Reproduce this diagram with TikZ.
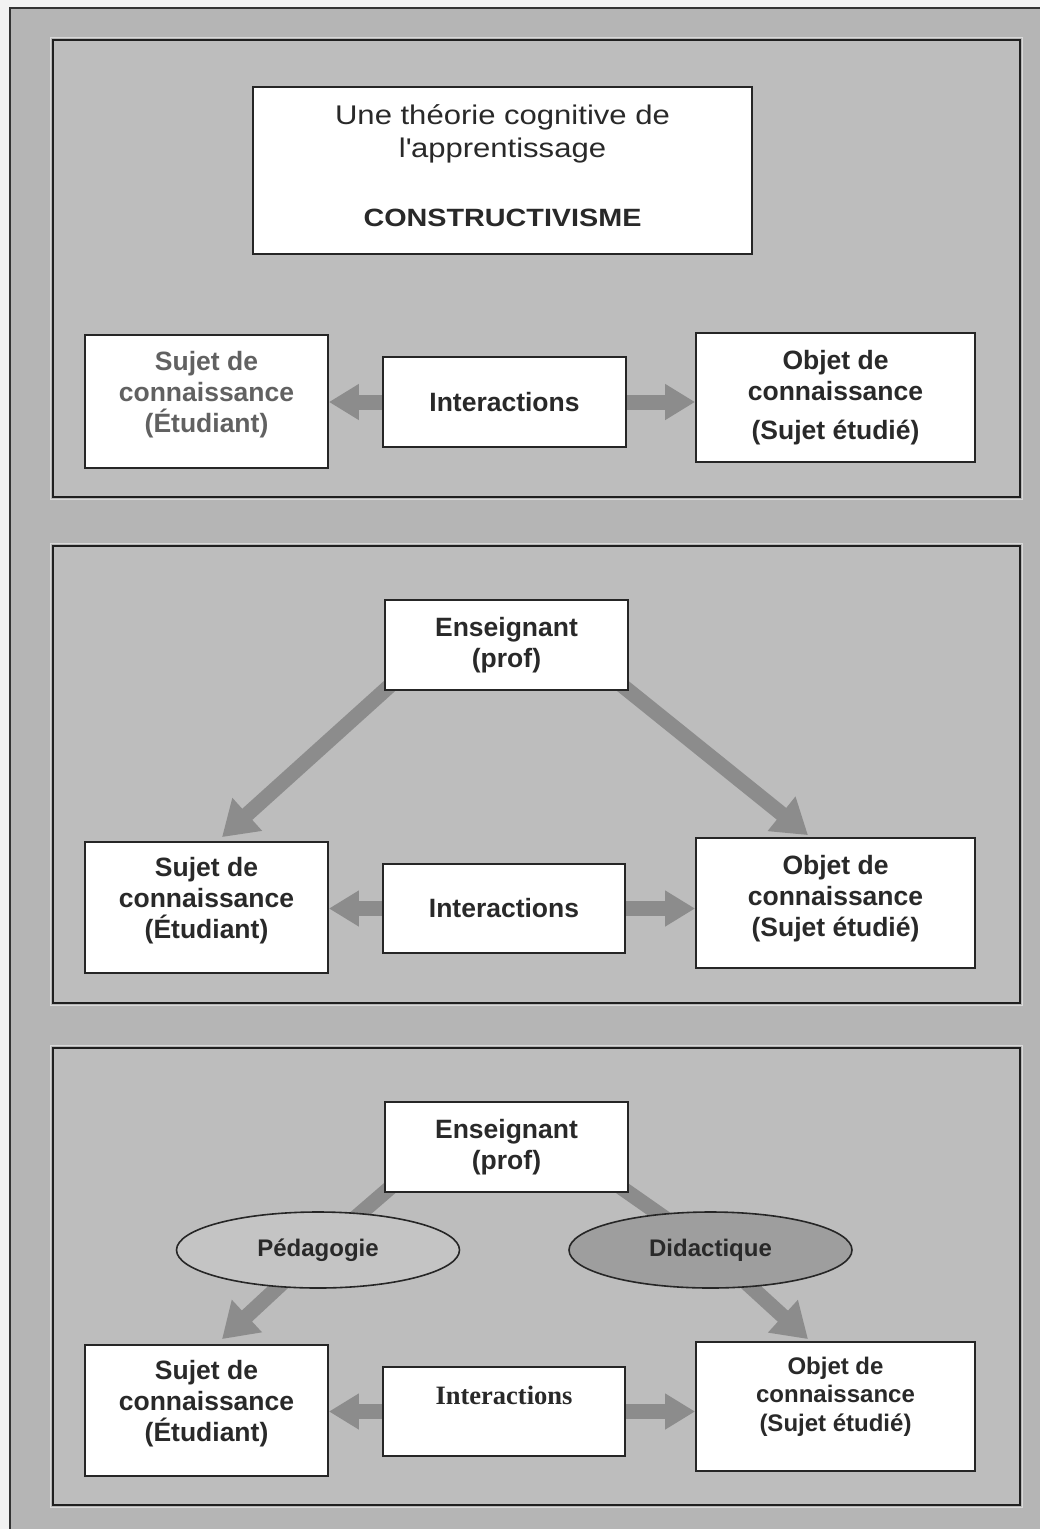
\documentclass[tikz,border=0pt]{standalone}
\usepackage{fontspec}
\setmainfont{Liberation Sans}
\newfontfamily\widesans{Liberation Sans}[FakeStretch=1.15]
\newfontfamily\serifbold{Liberation Serif}
\usetikzlibrary{arrows.meta,shapes.geometric,backgrounds}

\definecolor{paper}{gray}{0.95}
\definecolor{framegray}{gray}{0.71}
\definecolor{panelgray}{gray}{0.74}
\definecolor{arrowgray}{gray}{0.55}
\definecolor{ink}{gray}{0.16}
\definecolor{pedgray}{gray}{0.77}
\definecolor{didgray}{gray}{0.62}

% invisible strut that pushes the text block of a box upwards
\newcommand{\dropstrut}[1]{\rule[-#1]{0pt}{#1}}

\tikzset{
    box/.style={rectangle, draw=black!85, fill=white, line width=1.8pt, inner sep=0pt, align=center, text=ink, font=\bfseries\fontsize{26.5}{31}\selectfont},
    sidebox/.style={box, minimum width=243pt, minimum height=132pt},
    objbox/.style={box, minimum width=279pt, minimum height=130pt},
    midbox/.style={box, minimum width=243pt, minimum height=90pt},
    field/.style={ellipse, draw=black!85, line width=1.6pt, inner sep=0pt, minimum width=283pt, minimum height=76pt, text=ink, font=\bfseries\fontsize{24}{28}\selectfont},
    panel/.style={fill=panelgray, draw=black!88, line width=2.4pt}
}

\begin{document}
\begin{tikzpicture}[x=1pt,y=-1pt]
    \useasboundingbox (0,0) rectangle (1040,1529);

    \begin{scope}[on background layer]
        \fill[paper] (0,0) rectangle (1040,1529);
        \fill[framegray] (10,8) rectangle (1040,1529);
        \draw[black!80, line width=1.6pt] (10,1529) -- (10,8) -- (1040,8);
        \foreach \py in {40,546,1048} {
            \draw[white!85!black, line width=1.2pt] (50.5,\py-2.5) rectangle (1022.5,\py+459.5);
            \draw[panel] (53,\py) rectangle (1020,\py+457);
        }
    \end{scope}

    \begin{scope}[every node/.style={box}]
        \node[minimum width=499pt, minimum height=167pt, font=\widesans\fontsize{27}{33}\selectfont] (theory) at (502.5,170.5)
            {Une théorie cognitive de\\l\textquotesingle apprentissage\\[36pt]{\bfseries\fontsize{25}{33}\selectfont CONSTRUCTIVISME}\dropstrut{9pt}};
        \node[sidebox, minimum height=133pt, text=black!62] (suj1) at (206.5,401.5) {Sujet de\\connaissance\\(Étudiant)\dropstrut{20pt}};
        \node[midbox] (int1) at (504.5,402) {Interactions};
        \node[objbox, minimum height=129pt] (obj1) at (835.5,397.5) {Objet de\\connaissance\\[8pt](Sujet étudié)};

        \node[midbox] (ens2) at (506.5,645) {Enseignant\\(prof)};
        \node[sidebox, minimum height=131pt] (suj2) at (206.5,907.5) {Sujet de\\connaissance\\(Étudiant)\dropstrut{20pt}};
        \node[midbox, minimum width=242pt, minimum height=89pt] (int2) at (504,908.5) {Interactions};
        \node[objbox] (obj2) at (835.5,903) {Objet de\\connaissance\\(Sujet étudié)\dropstrut{14pt}};

        \node[midbox] (ens3) at (506.5,1147) {Enseignant\\(prof)};
        \node[field, fill=pedgray] (ped) at (318,1250) {Pédagogie};
        \node[field, fill=didgray] (did) at (710.5,1250) {Didactique};
        \node[sidebox, minimum height=131pt] (suj3) at (206.5,1410.5) {Sujet de\\connaissance\\(Étudiant)\dropstrut{20pt}};
        \node[midbox, minimum width=242pt, minimum height=89pt, font=\serifbold\bfseries\fontsize{26.5}{31}\selectfont] (int3) at (504,1411.5) {\raisebox{33pt}{Interactions}};
        \node[objbox, minimum height=129pt, font=\bfseries\fontsize{24}{28.5}\selectfont] (obj3) at (835.5,1406.5) {Objet de\\connaissance\\(Sujet étudié)\dropstrut{25pt}};
    \end{scope}

    \begin{scope}[on background layer, every edge/.style={draw=arrowgray, line width=15pt}]
        \path [-{Triangle[length=30pt,width=34pt]}] (int1.west) edge (int1.west -| suj1.east);
        \path [-{Triangle[length=30pt,width=34pt]}] (int1.east) edge (int1.east -| obj1.west);
        \path [-{Triangle[length=30pt,width=34pt]}] (int2.west) edge (int2.west -| suj2.east);
        \path [-{Triangle[length=30pt,width=34pt]}] (int2.east) edge (int2.east -| obj2.west);
        \path [-{Triangle[length=30pt,width=34pt]}] (int3.west) edge (int3.west -| suj3.east);
        \path [-{Triangle[length=30pt,width=34pt]}] (int3.east) edge (int3.east -| obj3.west);

        \path [-{Triangle[length=34pt,width=42pt]}, shorten <=-12pt] (ens2.south west) edge ([xshift=15.5pt,yshift=4pt]suj2.north);
        \path [-{Triangle[length=34pt,width=42pt]}, shorten <=-12pt] (ens2.south east) edge ([xshift=-27.5pt,yshift=2pt]obj2.north);

        \path [-, shorten <=-12pt] (ens3.south west) edge (ped.center);
        \path [-{Triangle[length=34pt,width=42pt]}] (ped.center) edge ([xshift=15.5pt,yshift=5pt]suj3.north);
        \path [-, shorten <=-12pt] (ens3.south east) edge (did.center);
        \path [-{Triangle[length=34pt,width=42pt]}] (did.center) edge ([xshift=-27.5pt,yshift=2pt]obj3.north);
    \end{scope}
\end{tikzpicture}
\end{document}
